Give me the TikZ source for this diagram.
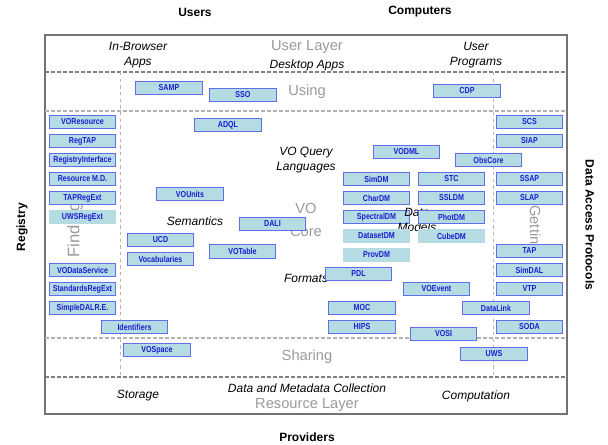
\documentclass[tikz,border=0pt]{standalone}
\usepackage{fontspec}
\setmainfont{Liberation Sans}
\newfontfamily\boxfont[FakeStretch=0.82]{Liberation Sans}
\definecolor{boxfill}{HTML}{B4DCE2}
\definecolor{boxline}{HTML}{5F6FEA}
\definecolor{boxtext}{HTML}{1C1CD2}
\definecolor{layertext}{HTML}{9A9A9A}
\tikzset{
  vobox/.style={draw=boxline, line width=0.8pt, fill=boxfill, text=boxtext,
    font=\boxfont\bfseries\fontsize{6.5}{7}\selectfont,
    minimum width=50pt, minimum height=10pt, inner sep=0pt},
  voplain/.style={vobox, draw=none},
  layer/.style={text=layertext, font=\fontsize{11}{13}\selectfont, align=center},
  area/.style={font=\itshape\fontsize{9}{11}\selectfont, align=center},
  side/.style={font=\bfseries\fontsize{9}{11}\selectfont},
  bigsep/.style={draw=black!50, line width=0.8pt, dash pattern=on 3pt off 1.5pt},
  smallsep/.style={draw=black!30, line width=0.8pt, dash pattern=on 3pt off 1.5pt},
  colsep/.style={draw=black!28, line width=0.6pt, dash pattern=on 2.5pt off 2.5pt}
}
\begin{document}
\begin{tikzpicture}[x=0.75pt,y=-0.75pt]
\useasboundingbox (0,0) rectangle (608,444);
\pgfmathsetmacro{\xl}{82.5}
\pgfmathsetmacro{\xr}{529.5}
%FRAME
  \draw[black!55, line width=0.8pt] (45,35) rectangle (567,414);
  \draw[bigsep] (45,72) -- (567,72);
  \draw[smallsep] (45,111) -- (567,111);
  \draw[smallsep] (45,338) -- (567,338);
  \draw[bigsep] (45,377) -- (567,377);
  \draw[colsep] (120,72) -- (120,377);
  \draw[colsep] (493,72) -- (493,377);

%OUTSIDE
  \node (users) at (195,12) [side] {Users};
  \node (computers) at (420,12) [side] {Computers};
  \node (providers) at (307,437) [side] {Providers};
  \node (registry) at (22,227) [side, rotate=90] {Registry};
  \node (dap) at (590,225) [side, rotate=-90] {Data Access Protocols};

%LAYERS
  \node (userlayer) at (307,47) [layer] {User Layer};
  \node (using) at (307,92) [layer] {Using};
  \node (vocore) at (306,220) [layer] {VO\\[4.5pt]Core};
  \node (finding) at (75,230) [layer, font=\fontsize{12.5}{14}\selectfont, rotate=90] {Finding};
  \node (getting) at (534,229) [layer, rotate=-90] {Getting};
  \node (sharing) at (307,357) [layer] {Sharing};
  \node (resourcelayer) at (307,405) [layer] {Resource Layer};

%AREAS
  \node (browser) at (138,55) [area] {In-Browser\\Apps};
  \node (desktop) at (307,65) [area] {Desktop Apps};
  \node (programs) at (476,55) [area] {User\\Programs};
  \node (querylang) at (306,160) [area] {VO Query\\Languages};
  \node (semantics) at (195,221) [area] {Semantics};
  \node (formats) at (306,278) [area] {Formats};
  \node (storage) at (138,396) [area] {Storage};
  \node (collection) at (307,388) [area] {Data and Metadata Collection};
  \node (computation) at (476,396) [area] {Computation};

%USING
  \node (samp) at (169,88) [vobox] {SAMP};
  \node (sso) at (243,95) [vobox] {SSO};
  \node (cdp) at (467,91) [vobox] {CDP};

%REGISTRY
  \node (voresource) at (\xl,122) [vobox] {VOResource};
  \node (regtap) at (\xl,141) [vobox] {RegTAP};
  \node (reginterface) at (\xl,160) [vobox] {RegistryInterface};
  \node (resourcemd) at (\xl,179) [vobox] {Resource M.D.};
  \node (tapregext) at (\xl,198) [vobox] {TAPRegExt};
  \node (uwsregext) at (\xl,217) [voplain] {UWSRegExt};
  \node (vodataservice) at (\xl,270) [vobox] {VODataService};
  \node (stdregext) at (\xl,289) [vobox] {StandardsRegExt};
  \node (simpledalre) at (\xl,308) [vobox] {SimpleDALR.E.};

%CORE
  \node (adql) at (228,125) [vobox] {ADQL};
  \node (vounits) at (190,194) [vobox] {VOUnits};
  \node (ucd) at (160.5,240) [vobox] {UCD};
  \node (vocabularies) at (160.5,259) [vobox] {Vocabularies};
  \node (dali) at (272.5,224) [vobox] {DALI};
  \node (votable) at (242.5,251.5) [vobox] {VOTable};
  \node (identifiers) at (134.5,327) [vobox] {Identifiers};
  \node (pdl) at (358.5,274) [vobox] {PDL};
  \node (moc) at (362,308) [vobox] {MOC};
  \node (hips) at (362,327) [vobox] {HIPS};
  \node (voevent) at (436.5,289) [vobox] {VOEvent};
  \node (vosi) at (443.5,334) [vobox] {VOSI};

%DATA MODELS
  \node (vodml) at (406.5,152) [vobox] {VODML};
  \node (simdm) at (376.5,179) [vobox] {SimDM};
  \node (chardm) at (376.5,198) [vobox] {CharDM};
  \node (spectraldm) at (376.5,217) [vobox] {SpectralDM};
  \node (datamodels) at (417,220) [area] {Data\\Models};
  \node (stc) at (451.5,179) [vobox] {STC};
  \node (ssldm) at (451.5,198) [vobox] {SSLDM};
  \node (photdm) at (451.5,217) [vobox] {PhotDM};
  \node (datasetdm) at (376.5,236) [voplain] {DatasetDM};
  \node (provdm) at (376.5,255) [voplain] {ProvDM};
  \node (cubedm) at (451.5,236) [voplain] {CubeDM};
  \node (obscore) at (488.5,160) [vobox] {ObsCore};

%DATA ACCESS
  \node (scs) at (\xr,122) [vobox] {SCS};
  \node (siap) at (\xr,141) [vobox] {SIAP};
  \node (ssap) at (\xr,179) [vobox] {SSAP};
  \node (slap) at (\xr,198) [vobox] {SLAP};
  \node (tap) at (\xr,251) [vobox] {TAP};
  \node (simdal) at (\xr,270) [vobox] {SimDAL};
  \node (vtp) at (\xr,289) [vobox] {VTP};
  \node (datalink) at (496,308) [vobox] {DataLink};
  \node (soda) at (\xr,327) [vobox] {SODA};

%SHARING
  \node (vospace) at (157,350) [vobox] {VOSpace};
  \node (uws) at (494,354) [vobox] {UWS};
\end{tikzpicture}
\end{document}
